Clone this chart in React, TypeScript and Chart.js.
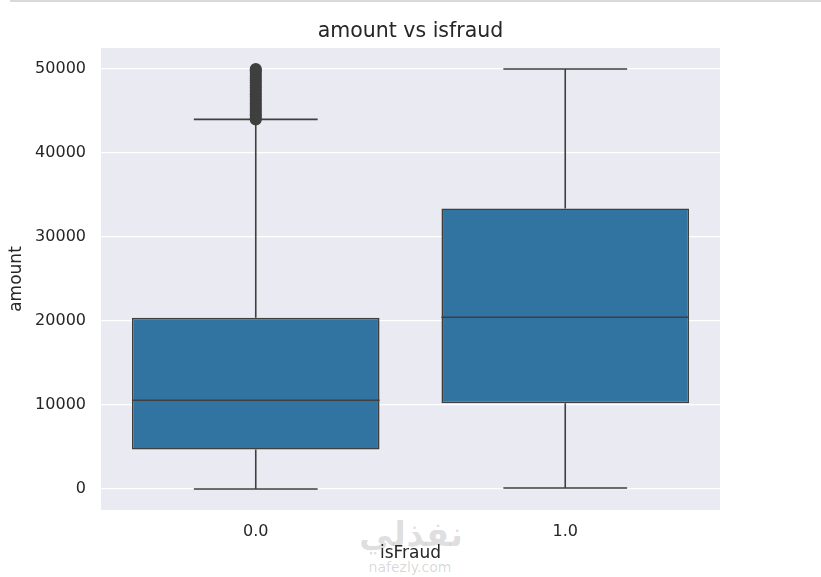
import React, { useEffect, useRef } from "react";
import { Chart, registerables } from "chart.js";

Chart.register(...registerables);

// ---- data ----
const categories = ["0.0", "1.0"];
const lowerWhisker = [0, 120];
const q1Values = [4700, 10200];
const medianValues = [10560, 20450];
const q3Values = [20400, 33400];
const upperWhisker = [44000, 50000];
const outliersCat0 = [
  43980, 44150, 44420, 44610, 44870, 45130, 45360, 45650, 45880, 46190,
  46430, 46720, 46980, 47270, 47510, 47800, 48060, 48350, 48610, 48880,
  49140, 49420, 49680, 49870, 50000,
];
const yTickValues = [0, 10000, 20000, 30000, 40000, 50000];
const yMin = -2500;
const yMax = 52500;
const chartTitle = "amount vs isfraud";

const FONT = "'DejaVu Sans', sans-serif";
const TEXT = "#262626";
const LINE = "#3f3f3f";
const BOX = "#3274a1";
const BG = "#eaeaf2";

const bgPlugin = {
  id: "plotBg",
  beforeDraw(chart: any) {
    const { ctx, chartArea } = chart;
    ctx.save();
    ctx.fillStyle = BG;
    ctx.fillRect(chartArea.left, chartArea.top, chartArea.right - chartArea.left, chartArea.bottom - chartArea.top);
    ctx.restore();
  },
  afterDraw(chart: any) {
    const { ctx, chartArea } = chart;
    ctx.save();
    ctx.fillStyle = TEXT;
    ctx.font = `20.5px ${FONT}`;
    ctx.textAlign = "center";
    ctx.textBaseline = "alphabetic";
    ctx.fillText(chartTitle, (chartArea.left + chartArea.right) / 2, 37);
    ctx.restore();
  },
};

const whiskerPlugin = {
  id: "whiskers",
  beforeDatasetsDraw(chart: any) {
    const { ctx } = chart;
    const x = chart.scales.x;
    const y = chart.scales.y;
    const meta = chart.getDatasetMeta(0);
    ctx.save();
    ctx.strokeStyle = LINE;
    ctx.lineWidth = 1.6;
    ctx.lineCap = "butt";
    categories.forEach((_, i) => {
      const bar = meta.data[i];
      const cx = x.getPixelForValue(i);
      const half = bar.width / 4;
      const yLo = y.getPixelForValue(lowerWhisker[i]);
      const yQ1 = y.getPixelForValue(q1Values[i]);
      const yQ3 = y.getPixelForValue(q3Values[i]);
      const yHi = y.getPixelForValue(upperWhisker[i]);
      ctx.beginPath();
      ctx.moveTo(cx, yQ1);
      ctx.lineTo(cx, yLo);
      ctx.moveTo(cx - half, yLo);
      ctx.lineTo(cx + half, yLo);
      ctx.moveTo(cx, yQ3);
      ctx.lineTo(cx, yHi);
      ctx.moveTo(cx - half, yHi);
      ctx.lineTo(cx + half, yHi);
      ctx.stroke();
    });
    ctx.restore();
  },
  afterDatasetsDraw(chart: any) {
    const { ctx } = chart;
    const x = chart.scales.x;
    const y = chart.scales.y;
    const meta = chart.getDatasetMeta(0);
    ctx.save();
    ctx.strokeStyle = LINE;
    ctx.lineWidth = 1.6;
    categories.forEach((_, i) => {
      const bar = meta.data[i];
      const cx = x.getPixelForValue(i);
      const half = bar.width / 2;
      const yMed = y.getPixelForValue(medianValues[i]);
      ctx.beginPath();
      ctx.moveTo(cx - half, yMed);
      ctx.lineTo(cx + half, yMed);
      ctx.stroke();
    });
    ctx.restore();
  },
};

export default function App() {
  const canvasRef = useRef<HTMLCanvasElement | null>(null);

  useEffect(() => {
    if (!canvasRef.current) return;
    const chart = new Chart(canvasRef.current, {
      type: "bar",
      data: {
        labels: categories,
        datasets: [
          {
            type: "bar",
            data: categories.map((_, i) => [q1Values[i], q3Values[i]]) as any,
            backgroundColor: BOX,
            borderColor: LINE,
            borderWidth: 1.6,
            borderSkipped: false,
            barPercentage: 0.8,
            categoryPercentage: 1,
          },
          {
            type: "line",
            data: outliersCat0.map((v) => ({ x: categories[0], y: v })) as any,
            showLine: false,
            pointRadius: 6,
            pointBackgroundColor: LINE,
            pointBorderColor: LINE,
            pointBorderWidth: 0,
          },
        ],
      },
      options: {
        responsive: false,
        animation: false,
        devicePixelRatio: 1,
        layout: { padding: { left: 0, right: 101, top: 48, bottom: 0 } },
        plugins: {
          legend: { display: false },
          tooltip: { enabled: false },
          title: { display: false },
        },
        scales: {
          x: {
            type: "category",
            offset: true,
            grid: { display: false, drawTicks: false },
            border: { display: false },
            ticks: {
              color: TEXT,
              font: { family: FONT, size: 16 },
              padding: 12,
            },
            title: {
              display: true,
              text: "isFraud",
              color: TEXT,
              font: { family: FONT, size: 17 },
              padding: { top: 0, bottom: 13 },
            },
            afterFit: (scale: any) => {
              scale.height = 67;
            },
          },
          y: {
            type: "linear",
            min: yMin,
            max: yMax,
            grid: { color: "#ffffff", lineWidth: 1.3, drawTicks: false },
            border: { display: false },
            afterBuildTicks: (scale: any) => {
              scale.ticks = yTickValues.map((v) => ({ value: v }));
            },
            ticks: {
              color: TEXT,
              font: { family: FONT, size: 16 },
              padding: 15,
              callback: (v: any) => String(v),
            },
            title: {
              display: true,
              text: "amount",
              color: TEXT,
              font: { family: FONT, size: 17 },
              padding: { top: 6, bottom: 0 },
            },
            afterFit: (scale: any) => {
              scale.width = 101;
            },
          },
        },
      },
      plugins: [bgPlugin, whiskerPlugin],
    } as any);
    return () => chart.destroy();
  }, []);

  return (
    <div style={{ position: "absolute", left: 0, top: 0, width: 821, height: 577, background: "#ffffff", overflow: "hidden" }}>
      <div style={{ position: "absolute", left: 10, top: 0, width: 811, height: 1.5, background: "#d9d9d9" }} />
      <div
        style={{
          position: "absolute",
          left: 356,
          top: 514,
          width: 110,
          textAlign: "center",
          fontFamily: "'DejaVu Sans', sans-serif",
          fontWeight: "bold",
          fontSize: 34,
          color: "rgba(0,0,0,0.13)",
          direction: "rtl",
        }}
      >
        نفذلي
      </div>
      <div
        style={{
          position: "absolute",
          left: 356,
          top: 559,
          width: 108,
          textAlign: "center",
          fontFamily: "'DejaVu Sans', sans-serif",
          fontSize: 14,
          color: "rgba(0,0,0,0.17)",
        }}
      >
        nafezly.com
      </div>
      <canvas ref={canvasRef} width={821} height={577} style={{ position: "absolute", left: 0, top: 0 }} />
    </div>
  );
}
